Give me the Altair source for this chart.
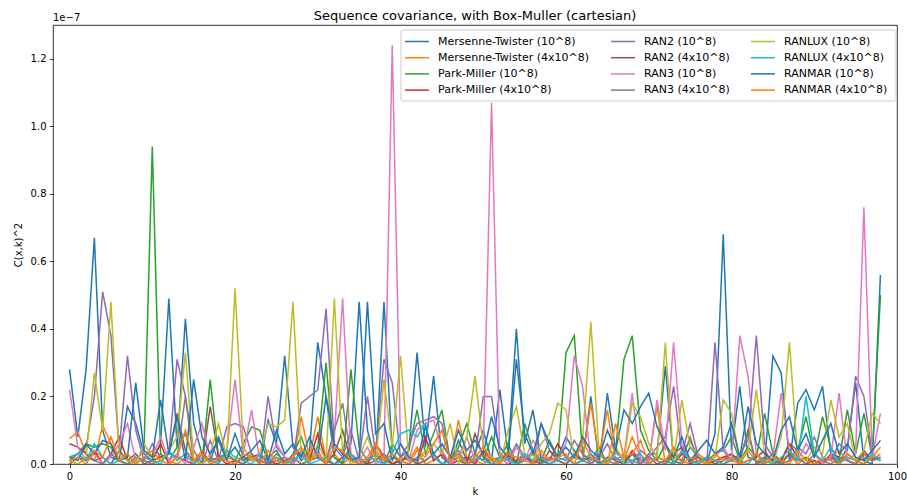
import altair as alt
import pandas as pd

k_values = list(range(99))

names = [
    "Mersenne-Twister (10^8)", "Mersenne-Twister (4x10^8)",
    "Park-Miller (10^8)", "Park-Miller (4x10^8)",
    "RAN2 (10^8)", "RAN2 (4x10^8)",
    "RAN3 (10^8)", "RAN3 (4x10^8)",
    "RANLUX (10^8)", "RANLUX (4x10^8)",
    "RANMAR (10^8)", "RANMAR (4x10^8)",
]
colors = [
    "#1f77b4", "#ff7f0e", "#2ca02c", "#d62728", "#9467bd", "#8c564b",
    "#e377c2", "#7f7f7f", "#bcbd22", "#17becf", "#1f77b4", "#ff7f0e",
]
title_text = "Sequence covariance, with Box-Muller (cartesian)"

# values in units of 1e-9 (axis shows units of 1e-7)
mt_1e8 = [
    28, 8, 28, 67, 10, 2, 1, 17, 12, 3,
    1, 6, 49, 5, 43, 12, 3, 1, 8, 2,
    5, 1, 3, 0, 13, 6, 32, 5, 1, 4,
    36, 20, 2, 0, 6, 48, 10, 1, 48, 3,
    0, 4, 33, 5, 26, 2, 0, 7, 1, 3,
    10, 1, 22, 3, 40, 6, 16, 1, 0, 2,
    8, 4, 1, 20, 0, 21, 4, 1, 3, 0,
    3, 3, 29, 1, 0, 5, 2, 0, 9, 68,
    4, 23, 2, 1, 0, 32, 27, 1, 18, 22,
    16, 23, 3, 0, 5, 24, 1, 0, 56,
]
mt_4e8 = [
    7.5, 9.5, 3, 1, 11.5, 6, 1, 0, 2, 1,
    0, 3, 1, 0, 2, 1, 4, 0, 1, 2,
    1, 0, 3, 1, 0, 2, 1, 0, 14, 2,
    14, 1, 3, 0, 2, 1, 0, 4, 1, 0,
    2, 1, 5, 0, 1, 3, 0, 13, 2, 1,
    0, 2, 1, 4, 0, 1, 3, 0, 2, 1,
    0, 3, 1, 18, 2, 16, 0, 1, 8, 2,
    1, 17, 0, 2, 1, 0, 3, 1, 0, 2,
    1, 0, 4, 1, 2, 0, 1, 3, 0, 2,
    1, 0, 2, 4, 1, 0, 2, 1, 3,
]
pm_1e8 = [
    2, 3, 6, 5, 6, 5, 1, 0, 1, 4,
    94, 3, 1, 5, 9, 1, 0, 25, 2, 3,
    1, 6, 11, 10, 2, 4, 0, 3, 8, 1,
    5, 30, 2, 0, 28, 5, 1, 3, 0, 6,
    2, 4, 16, 3, 9, 16, 1, 5, 12, 3,
    1, 8, 2, 6, 0, 12, 4, 1, 7, 2,
    33, 38, 3, 1, 5, 0, 4, 31, 38, 10,
    4, 1, 6, 0, 3, 7, 2, 1, 3, 4,
    8, 1, 5, 2, 15, 3, 1, 6, 4, 14,
    2, 14, 5, 1, 16, 3, 15, 2, 50,
]
pm_4e8 = [
    0, 2, 1, 4, 0, 3, 8, 1, 0, 2,
    1, 6, 0, 2, 1, 0, 3, 1, 2, 0,
    1, 0, 2, 3, 1, 0, 1, 2, 0, 1,
    9, 1, 0, 2, 3, 1, 0, 6, 2, 0,
    1, 2, 0, 8, 1, 3, 0, 1, 2, 0,
    4, 1, 2, 0, 1, 3, 0, 2, 1, 6,
    2, 0, 1, 3, 0, 2, 1, 0, 4, 1,
    0, 2, 1, 0, 3, 1, 2, 0, 1, 2,
    3, 0, 1, 2, 4, 0, 1, 6, 2, 0,
    1, 0, 3, 2, 1, 0, 4, 1, 2,
]
ran2_1e8 = [
    1, 3, 5, 20, 51, 38, 4, 32, 10, 1,
    6, 2, 3, 31, 20, 4, 0, 7, 1, 11,
    12, 11, 3, 0, 20, 5, 2, 1, 18, 20,
    22, 46, 5, 2, 10, 1, 20, 3, 31, 24,
    2, 6, 12, 13, 14, 12, 1, 4, 0, 2,
    20, 20, 3, 1, 6, 2, 0, 12, 4, 2,
    1, 7, 3, 0, 2, 6, 1, 3, 0, 4,
    2, 5, 8, 23, 3, 12, 2, 0, 36, 4,
    1, 3, 7, 38, 6, 2, 0, 1, 5, 3,
    8, 2, 1, 6, 4, 26, 20, 3, 1,
]
ran2_4e8 = [
    6, 5, 3, 1, 2, 0, 4, 1, 3, 0,
    1, 2, 3, 15, 4, 1, 0, 17, 2, 1,
    0, 2, 1, 3, 0, 1, 2, 0, 4, 1,
    2, 0, 3, 10, 1, 2, 0, 1, 3, 0,
    1, 2, 0, 1, 3, 0, 2, 1, 0, 9,
    2, 0, 1, 3, 0, 2, 1, 0, 4, 1,
    0, 3, 1, 2, 0, 1, 2, 0, 3, 1,
    2, 0, 1, 3, 5, 0, 1, 2, 0, 1,
    3, 1, 10, 0, 2, 1, 0, 3, 1, 2,
    0, 1, 2, 0, 3, 1, 0, 2, 1,
]
ran3_1e8 = [
    22, 5, 1, 3, 0, 2, 6, 12, 1, 4,
    2, 8, 1, 3, 0, 5, 12, 2, 0, 4,
    25, 3, 16, 1, 0, 6, 2, 0, 3, 1,
    4, 0, 8, 49, 3, 1, 5, 0, 2, 124,
    6, 1, 10, 12, 13, 4, 0, 2, 8, 1,
    3, 107, 2, 0, 5, 1, 7, 3, 0, 2,
    6, 32, 23, 1, 4, 0, 3, 2, 21, 1,
    0, 19, 4, 36, 6, 1, 3, 0, 2, 5,
    1, 38, 26, 3, 0, 2, 21, 4, 1, 6,
    3, 0, 2, 21, 1, 3, 76, 2, 15,
]
ran3_4e8 = [
    1, 0, 2, 1, 0, 3, 1, 0, 2, 1,
    0, 1, 3, 2, 20, 1, 0, 2, 1, 3,
    1, 0, 2, 1, 0, 3, 1, 2, 0, 1,
    2, 1, 10, 18, 2, 0, 1, 3, 0, 2,
    1, 0, 2, 1, 3, 0, 1, 2, 0, 1,
    3, 0, 1, 2, 0, 1, 4, 0, 2, 1,
    0, 2, 1, 0, 3, 1, 0, 2, 1, 0,
    2, 1, 0, 3, 1, 8, 0, 2, 1, 0,
    1, 2, 9, 0, 1, 3, 0, 1, 2, 0,
    3, 1, 0, 2, 1, 0, 3, 1, 2,
]
ranlux_1e8 = [
    1, 0, 2, 27, 10, 48, 3, 1, 0, 6,
    2, 1, 4, 8, 33, 1, 0, 3, 12, 2,
    52, 5, 1, 3, 12, 11, 13, 48, 2, 0,
    6, 1, 49, 3, 0, 2, 8, 1, 25, 5,
    32, 2, 1, 4, 6, 3, 12, 0, 8, 26,
    5, 2, 0, 10, 17, 3, 1, 6, 9, 18,
    16, 2, 7, 42, 3, 0, 5, 1, 18, 14,
    6, 2, 36, 1, 19, 5, 3, 0, 2, 19,
    15, 1, 4, 22, 3, 0, 8, 36, 2, 1,
    5, 3, 19, 8, 12, 1, 4, 15, 12,
]
ranlux_4e8 = [
    2, 3, 1, 6, 2, 0, 1, 3, 0, 2,
    1, 0, 4, 1, 3, 0, 2, 1, 0, 4,
    2, 1, 0, 3, 1, 2, 0, 1, 3, 0,
    1, 2, 0, 1, 3, 0, 2, 1, 0, 3,
    9, 10, 8, 12, 2, 0, 1, 3, 0, 2,
    1, 0, 2, 1, 0, 3, 1, 2, 0, 1,
    2, 0, 1, 3, 0, 1, 2, 0, 1, 3,
    0, 2, 1, 0, 4, 1, 0, 2, 1, 0,
    2, 1, 0, 3, 1, 0, 2, 4, 1, 20,
    3, 1, 5, 0, 2, 1, 0, 3, 1,
]
ranmar_1e8 = [
    2, 1, 6, 3, 7, 6, 1, 2, 24, 4,
    2, 19, 3, 14, 1, 25, 8, 3, 7, 1,
    9, 2, 4, 7, 1, 10, 3, 6, 2, 8,
    2, 20, 6, 3, 1, 2, 48, 9, 12, 1,
    6, 2, 1, 11, 3, 6, 2, 10, 4, 7,
    3, 14, 5, 2, 31, 9, 3, 12, 6, 2,
    5, 2, 8, 4, 2, 10, 4, 16, 12, 17,
    21, 11, 6, 2, 8, 1, 4, 7, 3, 5,
    12, 2, 17, 6, 3, 1, 10, 14, 4, 9,
    2, 7, 12, 3, 6, 2, 1, 4, 7,
]
ranmar_4e8 = [
    1, 2, 0, 4, 2, 8, 1, 3, 0, 2,
    4, 1, 0, 2, 10, 1, 3, 0, 2, 1,
    0, 3, 2, 0, 4, 1, 0, 2, 5, 1,
    3, 0, 5, 4, 1, 0, 2, 6, 1, 3,
    1, 0, 4, 2, 6, 10, 1, 3, 0, 2,
    5, 1, 0, 3, 2, 1, 0, 4, 1, 2,
    3, 0, 7, 2, 1, 0, 12, 2, 3, 7,
    0, 2, 1, 5, 0, 2, 1, 0, 3, 1,
    2, 0, 1, 3, 0, 2, 1, 0, 4, 1,
    0, 2, 1, 0, 3, 1, 0, 2, 5,
]

series_values = [mt_1e8, mt_4e8, pm_1e8, pm_4e8, ran2_1e8, ran2_4e8,
                 ran3_1e8, ran3_4e8, ranlux_1e8, ranlux_4e8, ranmar_1e8, ranmar_4e8]

rows = []
for idx, (name, vals) in enumerate(zip(names, series_values)):
    for kk, v in zip(k_values, vals):
        rows.append({"k": kk, "series": name, "idx": idx, "c": v / 100.0})
df = pd.DataFrame(rows)

FONT = "DejaVu Sans"

lines = alt.Chart(df).mark_line(strokeWidth=1.5, clip=True).encode(
    x=alt.X("k:Q",
            scale=alt.Scale(domain=[-2, 100], nice=False, zero=False),
            axis=alt.Axis(values=[0, 20, 40, 60, 80, 100], title="k", grid=False,
                          titleY=27, titleBaseline="middle", titleFontWeight="normal")),
    y=alt.Y("c:Q",
            scale=alt.Scale(domain=[0, 1.3], nice=False),
            axis=alt.Axis(values=[0, 0.2, 0.4, 0.6, 0.8, 1.0, 1.2], format=".1f",
                          title="C(x,k)^2", grid=False, titleX=-35, titleY=219.5,
                          titleBaseline="middle", titleAlign="center",
                          titleFontWeight="normal")),
    color=alt.Color("series:N",
                    scale=alt.Scale(domain=names, range=colors),
                    legend=alt.Legend(title=None, orient="none", legendX=357, legendY=9.5,
                                      columns=3, symbolType="M-2,0H2", symbolSize=144,
                                      symbolStrokeWidth=1.5, labelFontSize=11,
                                      labelFont=FONT, labelColor="black", labelOffset=14,
                                      rowPadding=4.2, columnPadding=18, padding=0,
                                      labelLimit=300)),
    detail="idx:N",
    order=alt.Order("k:Q"),
)

frame = alt.Chart(pd.DataFrame({"a": [0]})).mark_rect(
    fill="white", fillOpacity=0.8, stroke="#cccccc", strokeWidth=1, cornerRadius=2
).encode(x=alt.value(348), x2=alt.value(843), y=alt.value(5), y2=alt.value(76))

offset_text = alt.Chart(pd.DataFrame({"a": [0]})).mark_text(
    text="1e\u22127", align="left", baseline="middle", fontSize=10, font=FONT, color="black"
).encode(x=alt.value(0), y=alt.value(-7))

title_mark = alt.Chart(pd.DataFrame({"a": [0]})).mark_text(
    text=title_text, align="center", baseline="alphabetic", fontSize=13, font=FONT,
    color="black"
).encode(x=alt.value(422), y=alt.value(-5))

chart = alt.layer(lines, frame, offset_text, title_mark).properties(
    width=844, height=439,
    padding={"left": 53, "top": 25, "right": 10, "bottom": 32},
    autosize=alt.AutoSizeParams(type="none"),
    background="white",
).configure_view(
    stroke="black", strokeWidth=0.8
).configure_axis(
    domain=False, grid=False, ticks=True, tickColor="black", tickWidth=0.8, tickSize=3.5,
    labelFont=FONT, labelFontSize=10, labelColor="black", labelPadding=3.5,
    titleFont=FONT, titleFontSize=10, titleFontWeight="normal", titleColor="black",
    labelFlush=False, labelBound=False, labelOverlap=False,
)

chart.save("out.html", embed_options={"renderer": "svg", "actions": False})
